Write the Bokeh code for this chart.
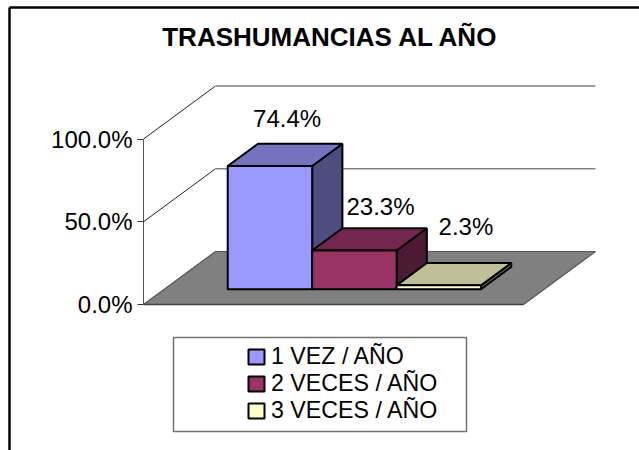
from bokeh.core.properties import value
from bokeh.embed import file_html
from bokeh.models import FixedTicker, Label, Legend, LegendItem, NumeralTickFormatter, Range1d
from bokeh.plotting import figure
from bokeh.resources import INLINE

# ---- data -------------------------------------------------------------
title = "TRASHUMANCIAS AL AÑO"
categories = ["1 VEZ / AÑO", "2 VECES / AÑO", "3 VECES / AÑO"]
values = [0.744, 0.233, 0.023]
y_ticks = [0.0, 0.5, 1.0]

# ---- styles -----------------------------------------------------------
front_colors = ["#9999FF", "#993366", "#FFFFCC"]
top_colors = ["#7373BF", "#732650", "#BFBF99"]
side_colors = ["#4D4D80", "#4D1A33", "#808066"]
label_dx = [2, 11, 12]
label_dy = [36, 33, 48]
FONT = "Liberation Sans"
FS = "24px"

# ---- layout of the oblique projection ---------------------------------
W, H = 639, 450
X0, Y0 = 143, 304      # pixel position of the front origin
XU, YU = 380, 165.5    # pixels per unit of width and per 100 %
DX, DY = 72, 53        # pixel shift of the full depth
GAP = 0.75             # gap either side of the cluster, in bar widths
D0, D1 = 0.29, 0.71    # depth span of the bars
ddx, ddy = DX / XU, DY / YU


def px_x(sx):
    return (sx - X0) / XU


def px_y(sy):
    return (Y0 - sy) / YU


def P(u, v, d=0.0):
    return u + d * ddx, v + d * ddy


def poly(*pts):
    pp = [P(*a) for a in pts]
    return [a[0] for a in pp], [a[1] for a in pp]


p = figure(
    width=W, height=H, output_backend="svg", toolbar_location=None,
    x_range=Range1d(px_x(0), px_x(W)), y_range=Range1d(px_y(H), px_y(0)),
    x_axis_type=None, min_border=0, min_border_left=0, min_border_right=0,
    min_border_top=0, min_border_bottom=0, outline_line_color=None,
)
p.styles = {"position": "absolute", "left": "0px", "top": "0px"}
p.grid.visible = False

# outer chart frame (runs off the page to the right and below)
p.line([px_x(9), px_x(9)], [px_y(H + 10), px_y(7)], line_color="black", line_width=2.5)
p.line([px_x(9), px_x(W + 10)], [px_y(7), px_y(7)], line_color="black", line_width=2.5)

# walls
for t in y_ticks[1:]:
    xs, ys = poly((0, t, 0), (0, t, 1))
    p.line(xs, ys, line_color="#222222", line_width=1)
    xs, ys = poly((0, t, 1), (1, t, 1))
    p.line(xs, ys, line_color="#808080", line_width=1.6)

# floor
xs, ys = poly((0, 0, 0), (1, 0, 0), (1, 0, 1), (0, 0, 1))
p.patch(xs, ys, fill_color="#808080", line_color="#555555", line_width=1.2)
xs, ys = poly((0, 0, 0), (1, 0, 0))
p.line(xs, ys, line_color="#444444", line_width=1.6)

# bars
n = len(values)
bw = 1 / (n + 2 * GAP)
items = []
for i, v in enumerate(values):
    a = (GAP + i) * bw
    b = a + bw
    xs, ys = poly((b, 0, D0), (b, 0, D1), (b, v, D1), (b, v, D0))
    p.patch(xs, ys, fill_color=side_colors[i], line_color="black", line_width=2)
    xs, ys = poly((a, v, D0), (b, v, D0), (b, v, D1), (a, v, D1))
    p.patch(xs, ys, fill_color=top_colors[i], line_color="black", line_width=2)
    xs, ys = poly((a, 0, D0), (b, 0, D0), (b, v, D0), (a, v, D0))
    r = p.patches([xs], [ys], fill_color=front_colors[i], line_color="black", line_width=2)
    items.append(LegendItem(label=categories[i], renderers=[r]))
    lx, ly = P((a + b) / 2, v, (D0 + D1) / 2)
    p.text([lx], [ly], text=[f"{v * 100:.1f}%"], text_font=value(FONT), text_font_size=FS,
           text_color="black", text_align="center", text_baseline="alphabetic",
           x_offset=label_dx[i], y_offset=-label_dy[i])

# y axis drawn at the front-left corner of the floor
ax = p.yaxis[0]
ax.fixed_location = 0
ax.bounds = (0, 1)
ax.ticker = FixedTicker(ticks=y_ticks)
ax.formatter = NumeralTickFormatter(format="0.0%")
ax.major_tick_in = 0
ax.major_tick_out = 6
ax.minor_tick_line_color = None
ax.major_label_standoff = 5
ax.axis_line_color = "#555555"
ax.major_tick_line_color = "#333333"
ax.major_label_text_font = FONT
ax.major_label_text_font_size = FS
ax.major_label_text_color = "black"

# title
p.add_layout(Label(x=px_x(330), y=px_y(36), text=title, text_font=FONT, text_font_size="26px",
                   text_font_style="bold", text_align="center", text_baseline="middle",
                   text_color="black"))

# legend box and legend
p.quad(left=[px_x(173)], right=[px_x(466)], top=[px_y(337)], bottom=[px_y(431)],
       fill_color="white", line_color="#707070", line_width=1.5)
legend = Legend(items=items, location=(246, 26), orientation="vertical",
                background_fill_alpha=0, border_line_color=None, padding=0, margin=0,
                spacing=0, glyph_width=20, glyph_height=19, label_height=27,
                label_standoff=5, label_text_font=FONT, label_text_font_size="23.2px",
                label_text_color="black")
p.add_layout(legend)

open("out.html", "w").write(file_html(p, INLINE))
